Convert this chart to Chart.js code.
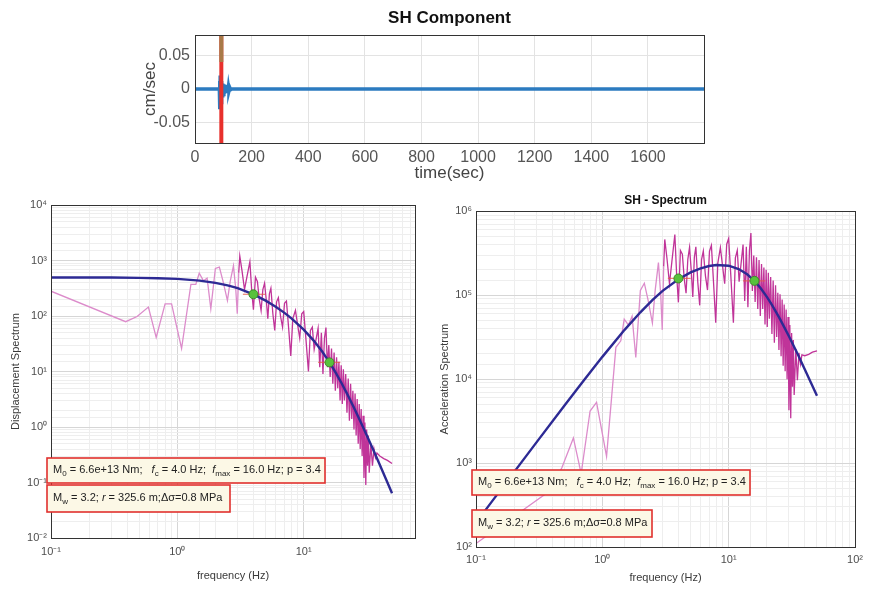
<!DOCTYPE html>
<html>
<head>
<meta charset="utf-8">
<script src="https://cdn.jsdelivr.net/npm/chart.js@4.4.1/dist/chart.umd.min.js"></script>
<style>
  body { margin: 0; background: #fff; width: 891px; height: 590px; position: relative; overflow: hidden; }
  canvas { position: absolute; }
</style>
</head>
<body>
<canvas id="shTrace" width="639" height="190" style="left:130px;top:0"></canvas>
<canvas id="dispSpec" width="430" height="400" style="left:0;top:190px"></canvas>
<canvas id="accSpec" width="461" height="400" style="left:430px;top:190px"></canvas>
<script>
// SH velocity trace (top panel)
const traceTime = [0, 86, 87, 88, 89, 90, 91, 92, 93, 94, 95, 96, 98, 100, 102, 104, 106, 108, 110, 112, 114, 116, 118, 120, 123, 126, 130, 1798];
const traceVel = [0, 0, 0.012, -0.03, 0.02, -0.025, 0.015, -0.02, 0.012, -0.015, 0.01, -0.01, 0.008, -0.008, 0.007, -0.007, 0.006, -0.006, 0.005, -0.005, 0.004, -0.004, 0.003, -0.003, 0.002, -0.001, 0, 0];
const timeTicks = [0, 200, 400, 600, 800, 1000, 1200, 1400, 1600];
const pickTime = 93;
const pickSpan = [-0.08, 0.08];
const pickUpper = [0.04, 0.08];

// observed spectra
const obsFreq = [0.1, 0.39, 0.48, 0.59, 0.68, 0.8, 0.9, 1.08, 1.28, 1.4, 1.49, 1.61, 1.72, 1.84, 2.0, 2.15, 2.3, 2.49, 2.62, 2.78,
  2.9, 2.98, 3.06, 3.12, 3.25, 3.4, 3.55, 3.75, 3.88, 4.0, 4.15, 4.3, 4.45, 4.6, 4.75, 4.9, 5.05, 5.2, 5.35, 5.5,
  5.7, 5.9, 6.1, 6.3, 6.55, 6.8, 7.05, 7.3, 7.6, 7.9, 8.2, 8.6, 8.95, 9.3, 9.65, 10.0, 10.4, 10.9, 11.3, 11.7,
  12.1, 12.5, 13.0, 13.4, 13.8, 14.2, 14.6, 15.0, 15.4, 15.8, 16.2, 16.6, 17.0, 17.4, 17.8, 18.2, 18.6, 19.0, 19.4, 19.8,
  20.2, 20.6, 21.0, 21.5, 22.0, 22.5, 23.0, 23.5, 24.0, 24.5, 25.0, 25.5, 26.0, 26.5, 27.0, 27.5, 28.0, 28.5, 29.0, 29.5,
  30.0, 30.5, 31.0, 31.5, 32.0, 32.5, 33.0, 34.0, 35.0, 36.0, 37.0, 38.0, 40.0, 43.0, 46.0, 50.0];
const obsDisp = [280, 79, 98, 145, 41, 165, 165, 26, 370, 370, 590, 430, 480, 135, 720, 760, 420, 190, 420, 800,
  300, 110, 600, 1200, 650, 300, 500, 950, 280, 130, 500, 420, 200, 126, 300, 390, 200, 89, 250, 316,
  110, 55, 180, 214, 100, 63, 170, 186, 60, 19, 90, 126, 70, 40, 110, 120, 40, 10, 55, 63,
  25, 37, 60, 12, 50, 9, 40, 62, 12, 30, 8, 26, 6, 22, 4.5, 18, 5, 15, 3, 13,
  2.6, 11, 3, 9, 1.8, 7.5, 1.3, 6, 1.4, 4.5, 0.9, 4, 0.7, 3.2, 0.5, 2.6, 0.4, 2.1, 0.3, 1.6,
  0.12, 1.2, 0.09, 0.9, 0.2, 0.7, 0.15, 0.5, 0.2, 0.4, 0.28, 0.34, 0.3, 0.27, 0.25, 0.22];
const obsAcc = [110, 474, 891, 1990, 748, 4170, 5280, 1200, 23900, 28600, 51700, 44000, 56100, 18100, 113700, 138700, 87700, 46500, 113800, 244100,
  99600, 38600, 221800, 461200, 271100, 136900, 248800, 527400, 166400, 82100, 340000, 306600, 156400, 105300, 267200, 369700, 201400, 95000, 282500, 377400,
  141100, 75600, 264400, 335300, 169400, 115000, 333600, 391300, 136800, 46800, 238900, 367900, 221400, 136600, 404400, 473800, 170800, 46900, 277300, 340500,
  144500, 228200, 400300, 85100, 375900, 71600, 336600, 550700, 112400, 295700, 82900, 282900, 68500, 263000, 56300, 235400, 68300, 213800, 44600, 201200,
  41900, 184300, 52200, 164200, 34400, 149900, 27200, 130800, 31800, 106600, 22200, 102700, 18700, 88700, 14400, 77600, 12400, 67300, 9960, 55000,
  4260, 44100, 3420, 35300, 8090, 29200, 6450, 22800, 9670, 20500, 15100, 19400, 19000, 19700, 20900, 21700];

// fitted source model
const modelFreq = [0.1, 0.2, 0.3, 0.5, 0.7, 1, 1.5, 2, 2.5, 3, 4, 5, 6, 7, 8, 10, 12, 14, 16, 18, 20, 22, 25, 27, 30, 35, 40, 45, 50];
const modelDisp = [495, 494, 493, 487, 480, 466, 434, 396, 356, 317, 245, 189, 147, 115, 90.4, 56.8, 36.0, 22.9, 14.6, 9.36, 6.07, 4.01, 2.22, 1.53, 0.912, 0.417, 0.208, 0.112, 0.064];
const modelAcc = [195, 780, 1750, 4810, 9290, 18400, 38600, 62500, 87800, 112600, 154800, 186500, 208900, 222500, 228400, 224200, 204700, 177200, 147600, 119700, 95900, 76600, 54800, 44000, 32400, 20200, 13100, 8950, 6320];

// corner frequencies (fc, fmax) and their ranges
const cornerFreq = [4.0, 16.0];
const cornerDisp = [246, 14.6];
const cornerAcc = [158000, 148000];
const cornerLow = [3.3, 13.0];
const cornerHigh = [5.0, 19.5];

const FONT = '"Liberation Sans", Arial, Helvetica, sans-serif';
const SUP = { '-': '\u207B', '0': '\u2070', '1': '\u00B9', '2': '\u00B2', '3': '\u00B3', '4': '\u2074', '5': '\u2075', '6': '\u2076' };

function isDecade(v) {
  const e = Math.log10(v);
  return Math.abs(e - Math.round(e)) < 1e-6;
}
function decadeLabel(v) {
  if (!isDecade(v)) return '';
  return '10' + String(Math.round(Math.log10(v))).split('').map(c => SUP[c]).join('');
}
const logGrid = ctx => (ctx.tick && isDecade(ctx.tick.value)) ? '#d6d6d6' : '#eeeeee';

// axes box like matlab + annotation boxes
function frame(notes) {
  return {
    id: 'frame',
    afterDatasetsDraw(chart) {
      const { ctx, chartArea: a } = chart;
      ctx.save();
      ctx.strokeStyle = '#333';
      ctx.lineWidth = 1;
      ctx.strokeRect(Math.round(a.left) + 0.5, Math.round(a.top) + 0.5, Math.round(a.right - a.left), Math.round(a.bottom - a.top));
      for (const n of notes) {
        ctx.fillStyle = '#fcf8e6';
        ctx.fillRect(n.x, n.y, n.w, n.h);
        ctx.strokeStyle = '#e0302e';
        ctx.lineWidth = 1.6;
        ctx.strokeRect(n.x, n.y, n.w, n.h);
        let x = n.x + 6;
        const y = n.y + n.base;
        ctx.fillStyle = '#222';
        ctx.textBaseline = 'alphabetic';
        for (const [txt, kind] of n.runs) {
          const sub = kind.includes('s');
          const size = sub ? 8 : 11;
          ctx.font = (kind.includes('i') ? 'italic ' : '') + size + 'px ' + FONT;
          ctx.fillText(txt, x, sub ? y + 3 : y);
          x += ctx.measureText(txt).width;
        }
      }
      ctx.restore();
    }
  };
}

const runsA = [['M', 'n'], ['0', 's'], [' = 6.6e+13 Nm;   ', 'n'], ['f', 'i'], ['c', 's'], [' = 4.0 Hz;  ', 'n'], ['f', 'i'], ['max', 's'], [' = 16.0 Hz; p = 3.4', 'n']];
const runsB = [['M', 'n'], ['w', 's'], [' = 3.2; ', 'n'], ['r', 'i'], [' = 325.6 m;\u0394\u03C3=0.8 MPa', 'n']];

const pts = (xs, ys) => xs.map((x, i) => ({ x, y: ys[i] }));

// top panel
new Chart(document.getElementById('shTrace'), {
  type: 'line',
  data: {
    datasets: [
      { data: pts([pickTime, pickTime], pickUpper), borderColor: '#a87a48', borderWidth: 4, pointRadius: 0, order: 0 },
      { data: pts([pickTime, pickTime], pickSpan), borderColor: '#e8302c', borderWidth: 4, pointRadius: 0, order: 1 },
      { data: pts(traceTime, traceVel), borderColor: '#2c7bc0', borderWidth: 3.5, pointRadius: 0, order: 2 }
    ]
  },
  options: {
    responsive: false, animation: false, devicePixelRatio: 1,
    layout: { padding: { left: 0, right: 65, top: 0, bottom: 0 } },
    plugins: {
      legend: { display: false }, tooltip: { enabled: false },
      title: { display: true, fullSize: false, text: 'SH Component', color: '#111', font: { family: FONT, size: 17, weight: 'bold' }, padding: { top: 8, bottom: 6.6 } }
    },
    scales: {
      x: {
        type: 'linear', min: 0, max: 1798,
        afterFit: s => { s.height = 47; },
        afterBuildTicks: s => { s.ticks = timeTicks.map(value => ({ value })); },
        border: { color: '#333' },
        grid: { color: '#e3e3e3', drawTicks: false },
        ticks: { autoSkip: false, padding: 5, maxRotation: 0, color: '#555', font: { family: FONT, size: 16 }, callback: v => String(v) },
        title: { display: true, text: 'time(sec)', color: '#444', font: { family: FONT, size: 17 }, padding: { top: 0, bottom: 6 } }
      },
      y: {
        type: 'linear', min: -0.08, max: 0.08,
        afterFit: s => { s.width = 65; },
        afterBuildTicks: s => { s.ticks = [-0.05, 0, 0.05].map(value => ({ value })); },
        border: { color: '#333' },
        grid: { color: '#e3e3e3', drawTicks: false },
        ticks: { autoSkip: false, padding: 5, color: '#555', font: { family: FONT, size: 16 }, callback: v => String(v) },
        title: { display: true, text: 'cm/sec', color: '#444', font: { family: FONT, size: 17 }, padding: { top: 10, bottom: 0 } }
      }
    }
  },
  plugins: [frame([])]
});

function spectrum(id, obs, model, corners, yMin, yMax, xMax, yTitle, title, boxes, sizes) {
  const datasets = [
    {
      data: pts(obsFreq, obs), borderWidth: 1.3, pointRadius: 0, order: 4,
      borderColor: '#c43c9e',
      segment: { borderColor: c => (c.p0.parsed.x < 3 ? '#dc8ccb' : '#c03499') }
    },
    { data: pts(modelFreq, model), borderColor: '#2d2a94', borderWidth: 2.4, pointRadius: 0, order: 3 },
    { data: pts([cornerLow[0], cornerHigh[0]], [corners[0], corners[0]]), borderColor: 'rgba(228,90,70,0.75)', borderWidth: 1.2, pointRadius: 0, order: 2 },
    { data: pts([cornerLow[1], cornerHigh[1]], [corners[1], corners[1]]), borderColor: 'rgba(228,90,70,0.75)', borderWidth: 1.2, pointRadius: 0, order: 2 },
    {
      data: pts(cornerFreq, corners), showLine: false, pointRadius: 4.5, pointBorderWidth: 1,
      pointBackgroundColor: '#58c13c', pointBorderColor: '#3d8a2a', order: 1
    }
  ];
  new Chart(document.getElementById(id), {
    type: 'line',
    data: { datasets },
    options: {
      responsive: false, animation: false, devicePixelRatio: 1,
      layout: { padding: sizes.padding },
      plugins: {
        legend: { display: false }, tooltip: { enabled: false },
        title: title
          ? { display: true, fullSize: false, text: title, color: '#111', font: { family: FONT, size: 12, weight: 'bold' }, padding: { top: 3.4, bottom: 3.4 } }
          : { display: false }
      },
      scales: {
        x: {
          type: 'logarithmic', min: 0.1, max: xMax,
          afterFit: s => { s.height = sizes.xh; },
          border: { color: '#333' },
          grid: { color: logGrid, drawTicks: false },
          ticks: { autoSkip: false, maxRotation: 0, padding: sizes.xpad, color: '#4d4d4d', font: { family: FONT, size: 11 }, callback: v => decadeLabel(v) },
          title: { display: true, text: 'frequency (Hz)', color: '#3a3a3a', font: { family: FONT, size: 11 }, padding: { top: 0, bottom: sizes.xtb } }
        },
        y: {
          type: 'logarithmic', min: yMin, max: yMax,
          afterFit: s => { s.width = sizes.yw; },
          border: { color: '#333' },
          grid: { color: logGrid, drawTicks: false },
          ticks: { autoSkip: false, padding: 4, color: '#4d4d4d', font: { family: FONT, size: 11 }, callback: v => decadeLabel(v) },
          title: { display: true, text: yTitle, color: '#3a3a3a', font: { family: FONT, size: 11 }, padding: { top: sizes.ytp, bottom: 0 } }
        }
      }
    },
    plugins: [frame(boxes)]
  });
}

spectrum('dispSpec', obsDisp, modelDisp, cornerDisp, 0.01, 10000, 76, 'Displacement Spectrum', null,
  [{ x: 47, y: 268, w: 278, h: 25, base: 15, runs: runsA }, { x: 47, y: 295, w: 183, h: 27, base: 16, runs: runsB }],
  { padding: { left: 0, right: 15, top: 15, bottom: 0 }, xh: 52, xpad: 7, xtb: 7, yw: 51, ytp: 9 });

spectrum('accSpec', obsAcc, modelAcc, cornerAcc, 100, 1000000, 100, 'Acceleration Spectrum', 'SH - Spectrum',
  [{ x: 42, y: 280, w: 278, h: 25, base: 15, runs: runsA }, { x: 42, y: 320, w: 180, h: 27, base: 16, runs: runsB }],
  { padding: { left: 0, right: 36, top: 0, bottom: 0 }, xh: 43, xpad: 6, xtb: 5, yw: 46, ytp: 8.4 });
</script>
</body>
</html>
